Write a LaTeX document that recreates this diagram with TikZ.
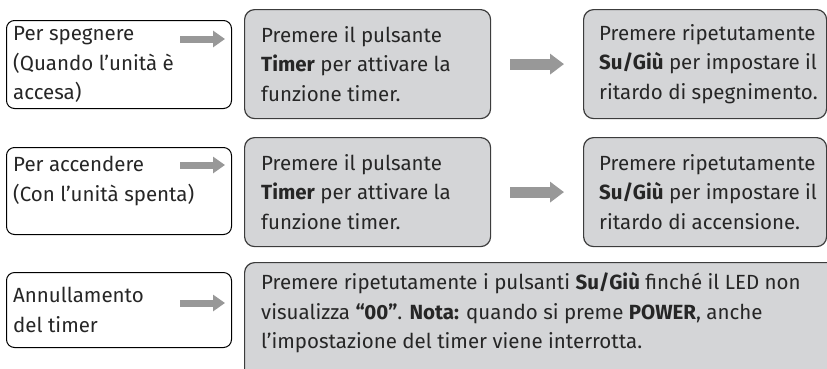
\documentclass[tikz,border=0pt]{standalone}
\usepackage{fontspec}
\setmainfont{Fira Sans}
\usetikzlibrary{arrows.meta, positioning}
\definecolor{boxgray}{RGB}{212,213,215}
\definecolor{arrowgray}{RGB}{152,152,152}
\definecolor{edgegray}{RGB}{60,60,60}

\begin{document}
\begin{tikzpicture}[
  x=1pt, y=-1pt,
  every node/.style = {font=\fontsize{20.5pt}{29.5pt}\selectfont, text=black!85},
  cond/.style = {draw=black, line width=1pt, rounded corners=8pt, fill=white,
    anchor=north west, minimum width=225pt},
  stepbox/.style = {draw=edgegray, line width=1.2pt, rounded corners=10pt, fill=boxgray,
    anchor=north west, minimum height=109pt},
  txt/.style = {align=left, inner sep=0pt, anchor=west},
  small arrow/.style = {arrowgray, line width=7pt, -{Triangle[width=16pt, length=12pt]}},
  big arrow/.style = {arrowgray, line width=11pt, -{Triangle[width=20pt, length=14pt]},
    shorten <=19pt, shorten >=19pt}
]
  \useasboundingbox (0,0) rectangle (827,368);
  \clip (0,0) rectangle (827,368);

  % first row: switching off
  \node[cond, minimum height=88pt] (off) at (6,20) {};
  \node[txt] (offt) at ([xshift=7pt]off.west) {Per spegnere\\(Quando l’unità è\\accesa)};
  \node[stepbox, minimum width=246pt] (offa) at (244,9) {};
  \node[txt] (offat) at ([xshift=17pt]offa.west) {Premere il pulsante\\\textbf{Timer} per attivare la\\funzione timer.};
  \node[stepbox, minimum width=243pt] (offb) at (583,9) {};
  \node[txt] (offbt) at ([xshift=16pt]offb.west) {Premere ripetutamente\\\textbf{Su/Giù} per impostare il\\ritardo di spegnimento.};

  % second row: switching on
  \node[cond, minimum height=87pt] (on) at (6,147) {};
  \node[txt, anchor=north west] (ont) at ([shift={(7pt,-9pt)}]on.north west) {Per accendere\\(Con l’unità spenta)};
  \node[stepbox, minimum width=246pt] (ona) at (244,137) {};
  \node[txt] (onat) at ([xshift=17pt]ona.west) {Premere il pulsante\\\textbf{Timer} per attivare la\\funzione timer.};
  \node[stepbox, minimum width=243pt] (onb) at (583,137) {};
  \node[txt] (onbt) at ([xshift=16pt]onb.west) {Premere ripetutamente\\\textbf{Su/Giù} per impostare il\\ritardo di accensione.};

  % third row: cancel
  \node[cond, minimum height=75pt] (cancel) at (6,272) {};
  \node[txt] (cancelt) at ([xshift=7pt]cancel.west) {Annullamento\\del timer};
  \node[stepbox, minimum width=600pt, minimum height=120pt] (cancela) at (244,262) {};
  \node[txt] (cancelat) at ([shift={(17pt,-51pt)}]cancela.north west) {Premere ripetutamente i pulsanti \textbf{Su/Giù} finché il LED non\\visualizza \textbf{“00”}. \textbf{Nota:} quando si preme \textbf{POWER}, anche\\l’impostazione del timer viene interrotta.};

  % arrows inside the left boxes
  \coordinate (offs) at (180,39);  \coordinate (offe) at (225,39);
  \coordinate (ons) at (180,165);  \coordinate (one) at (225,165);
  \coordinate (cans) at (180,303); \coordinate (cane) at (225,303);
  \draw[small arrow] (offs) -- (offe);
  \draw[small arrow] (ons) -- (one);
  \draw[small arrow] (cans) -- (cane);

  % arrows between the steps
  \draw[big arrow] (offa) -- (offb);
  \draw[big arrow] (ona) -- (onb);
\end{tikzpicture}
\end{document}
